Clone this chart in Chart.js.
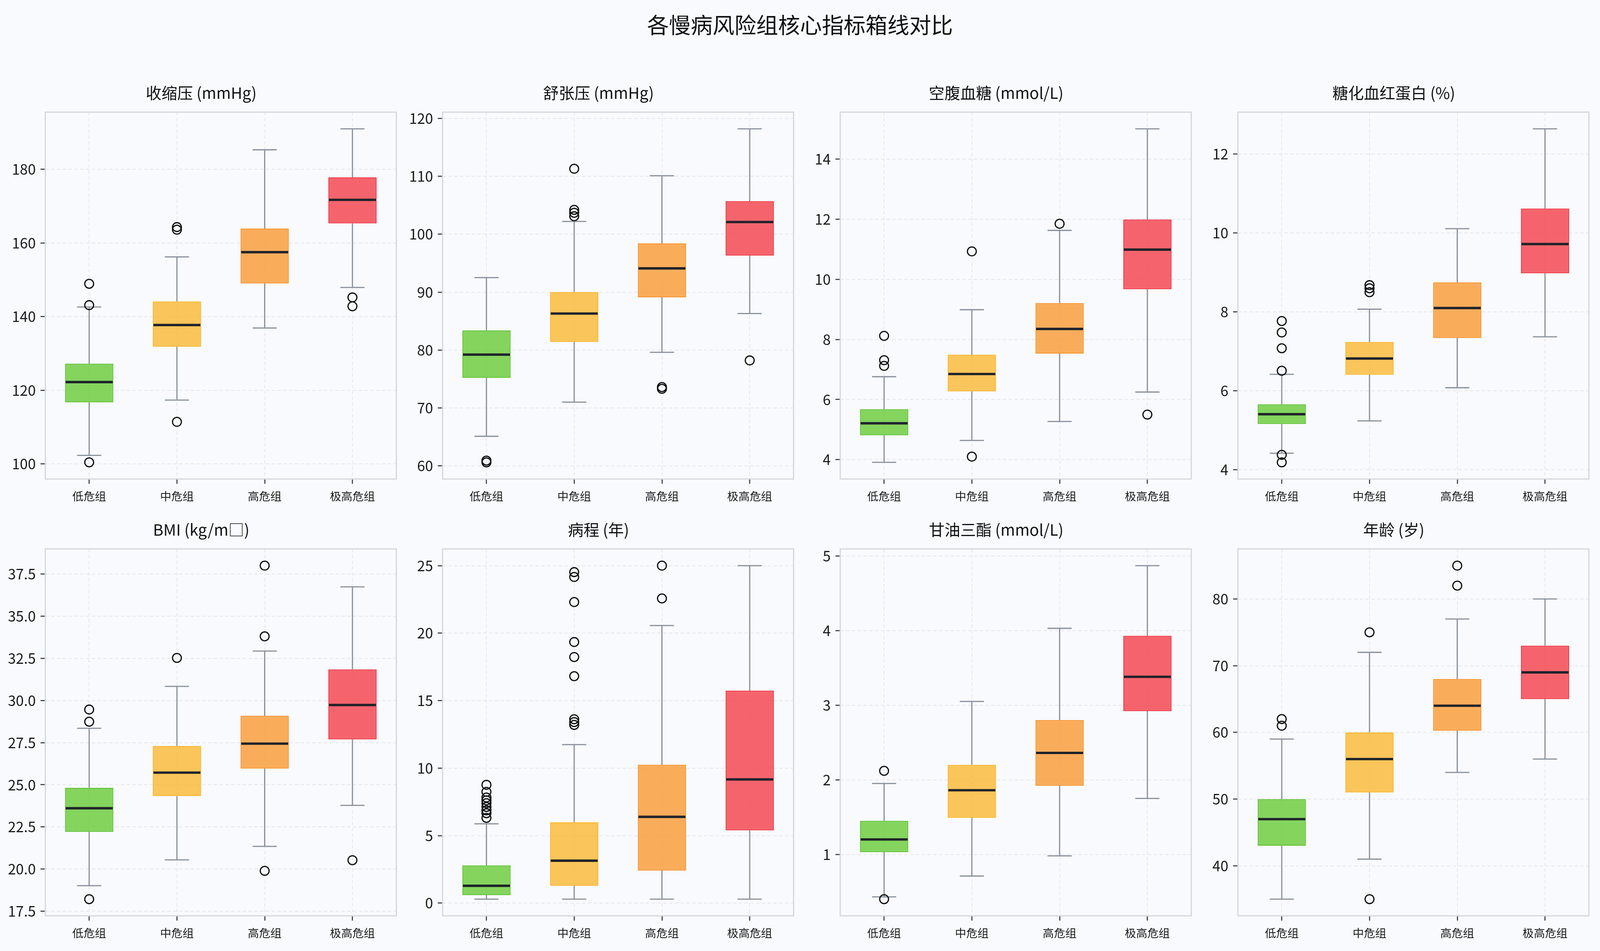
<!DOCTYPE html>
<html lang="zh-CN">
<head>
<meta charset="UTF-8">
<title>各慢病风险组核心指标箱线对比</title>
<script src="https://cdn.jsdelivr.net/npm/chart.js@4.4.1/dist/chart.umd.min.js"></script>
<style>
  html, body {
    margin: 0;
    overflow: hidden;
    background: #f8fafd;
  }
  body {
    position: relative;
    font-family: "Noto Sans CJK SC", "Noto Sans", sans-serif;
  }
  #title {
    position: absolute;
    left: 0;
    text-align: center;
    color: #111;
  }
  .cell {
    position: absolute;
  }
</style>
</head>
<body>
<div id="title">各慢病风险组核心指标箱线对比</div>
<script>
// ---- data ----
const groups = ['低危组', '中危组', '高危组', '极高危组'];
const panelTitles = ['收缩压 (mmHg)', '舒张压 (mmHg)', '空腹血糖 (mmol/L)', '糖化血红蛋白 (%)',
                     'BMI (kg/m□)', '病程 (年)', '甘油三酯 (mmol/L)', '年龄 (岁)'];

// one row per panel, one value per group
const whiskerLow = [
  [102.3, 117.3, 136.9, 147.9],
  [65.1, 71.0, 79.6, 86.3],
  [3.91, 4.64, 5.27, 6.25],
  [4.42, 5.24, 6.08, 7.37],
  [19.02, 20.55, 21.35, 23.78],
  [0.29, 0.29, 0.29, 0.29],
  [0.43, 0.71, 0.98, 1.75],
  [35, 41, 54, 56]
];
const q1 = [
  [116.7, 131.8, 149.0, 165.3],
  [75.2, 81.4, 89.1, 96.3],
  [4.81, 6.27, 7.53, 9.67],
  [5.16, 6.41, 7.34, 8.98],
  [22.21, 24.33, 25.96, 27.69],
  [0.59, 1.28, 2.41, 5.39],
  [1.03, 1.49, 1.92, 2.92],
  [43, 51, 60.25, 65]
];
const median = [
  [122.2, 137.7, 157.5, 171.7],
  [79.2, 86.3, 94.1, 102.1],
  [5.21, 6.85, 8.35, 10.99],
  [5.41, 6.82, 8.10, 9.72],
  [23.61, 25.72, 27.44, 29.73],
  [1.28, 3.14, 6.39, 9.16],
  [1.20, 1.86, 2.36, 3.38],
  [47, 56, 64, 69]
];
const q3 = [
  [127.2, 144.1, 163.9, 177.8],
  [83.4, 90.0, 98.4, 105.7],
  [5.68, 7.49, 9.21, 11.99],
  [5.66, 7.24, 8.75, 10.62],
  [24.82, 27.30, 29.09, 31.84],
  [2.79, 5.99, 10.25, 15.74],
  [1.45, 2.20, 2.80, 3.93],
  [50, 60, 68, 73]
];
const whiskerHigh = [
  [142.6, 156.2, 185.3, 191.0],
  [92.5, 102.2, 110.1, 118.2],
  [6.76, 8.99, 11.63, 15.01],
  [6.42, 8.07, 10.11, 12.64],
  [28.35, 30.83, 32.93, 36.73],
  [5.87, 11.74, 20.56, 25.0],
  [1.95, 3.05, 4.03, 4.87],
  [59, 72, 77, 80]
];
const outliers = [
  [[148.9, 143.1, 100.4], [164.3, 163.6, 111.4], [], [145.2, 142.8]],
  [[60.9, 60.6], [111.3, 104.2, 103.7, 103.1], [73.6, 73.3], [78.2]],
  [[8.12, 7.31, 7.12], [10.93, 4.10], [11.85], [5.50]],
  [[7.77, 7.48, 7.08, 6.51, 4.38, 4.19], [8.68, 8.60, 8.50], [], []],
  [[29.46, 28.74, 18.22], [32.52], [37.99, 33.80, 19.90], [20.53]],
  [[8.76, 8.24, 7.82, 7.61, 7.40, 7.12, 6.87, 6.66, 6.31],
   [24.52, 24.16, 22.30, 19.34, 18.23, 16.81, 13.62, 13.41, 13.20], [25.0, 22.57], []],
  [[2.12, 0.40], [], [], []],
  [[62, 61], [75, 35], [85, 82], []]
];
const yTicks = [
  [100, 120, 140, 160, 180],
  [60, 70, 80, 90, 100, 110, 120],
  [4, 6, 8, 10, 12, 14],
  [4, 6, 8, 10, 12],
  [17.5, 20, 22.5, 25, 27.5, 30, 32.5, 35, 37.5],
  [0, 5, 10, 15, 20, 25],
  [1, 2, 3, 4, 5],
  [40, 50, 60, 70, 80]
];

// ---- styling: sizes in reference pixels, scaled to the real viewport ----
const kx = window.innerWidth / 5361;
const ky = window.innerHeight / 2434;
const kf = Math.sqrt(kx * ky);
const sx = v => v * kx, sy = v => v * ky, sf = v => v * kf;

const boxFill = ['rgba(103,202,54,0.8)', 'rgba(250,184,49,0.8)', 'rgba(249,154,50,0.8)', 'rgba(244,62,72,0.8)'];
const boxEdge = ['#66c43a', '#fab72f', '#f89530', '#ef3b47'];
const cellLeft = [12, 1343, 2675, 4008];
const cellTop = [190, 1308];

document.body.style.width = window.innerWidth + 'px';
document.body.style.height = window.innerHeight + 'px';
const title = document.getElementById('title');
title.style.width = window.innerWidth + 'px';
title.style.fontSize = sf(64) + 'px';
title.style.lineHeight = sf(78) + 'px';
title.style.top = (sy(61) - sf(39)) + 'px';

Chart.defaults.font.family = '"Noto Sans CJK SC", "Noto Sans", sans-serif';
Chart.defaults.color = '#1a1a1a';
Chart.defaults.animation = false;

// whiskers, caps, medians and frame, positioned through the chart's scales
const boxParts = {
  id: 'boxParts',
  beforeDatasetsDraw(chart, args, opts) {
    const p = opts.panel;
    const ctx = chart.ctx, y = chart.scales.y, area = chart.chartArea;
    const bars = chart.getDatasetMeta(0).data;
    ctx.save();
    ctx.strokeStyle = '#d3d7de';
    ctx.lineWidth = sf(3.5);
    ctx.strokeRect(area.left, area.top, area.right - area.left, area.bottom - area.top);
    ctx.strokeStyle = '#8a929e';
    ctx.lineWidth = sf(3.5);
    bars.forEach((bar, i) => {
      const cx = bar.x, half = bar.width / 4;
      const yHi = y.getPixelForValue(whiskerHigh[p][i]);
      const yLo = y.getPixelForValue(whiskerLow[p][i]);
      ctx.beginPath();
      ctx.moveTo(cx, y.getPixelForValue(q3[p][i]));
      ctx.lineTo(cx, yHi);
      ctx.moveTo(cx - half, yHi);
      ctx.lineTo(cx + half, yHi);
      ctx.moveTo(cx, y.getPixelForValue(q1[p][i]));
      ctx.lineTo(cx, yLo);
      ctx.moveTo(cx - half, yLo);
      ctx.lineTo(cx + half, yLo);
      ctx.stroke();
    });
    ctx.restore();
  },
  afterDatasetsDraw(chart, args, opts) {
    const p = opts.panel;
    const ctx = chart.ctx, y = chart.scales.y;
    const bars = chart.getDatasetMeta(0).data;
    ctx.save();
    ctx.strokeStyle = '#1f232b';
    ctx.lineWidth = sf(7);
    bars.forEach((bar, i) => {
      const ym = y.getPixelForValue(median[p][i]);
      ctx.beginPath();
      ctx.moveTo(bar.x - bar.width / 2 + sx(2), ym);
      ctx.lineTo(bar.x + bar.width / 2 - sx(2), ym);
      ctx.stroke();
    });
    ctx.restore();
  }
};

function makeChart(p) {
  const div = document.createElement('div');
  div.className = 'cell';
  div.style.left = sx(cellLeft[p % 4]) + 'px';
  div.style.top = sy(cellTop[Math.floor(p / 4)]) + 'px';
  div.style.width = sx(1335) + 'px';
  div.style.height = sy(1106) + 'px';
  const canvas = document.createElement('canvas');
  div.appendChild(canvas);
  document.body.appendChild(div);

  const points = [];
  outliers[p].forEach((vals, g) => vals.forEach(v => points.push({ x: groups[g], y: v })));
  const all = whiskerLow[p].concat(whiskerHigh[p], outliers[p].flat());
  const lo = Math.min(...all), hi = Math.max(...all), pad = (hi - lo) * 0.05;
  const decimals = yTicks[p].some(v => v % 1 !== 0) ? 1 : 0;

  // title box: centre 48px above the plot top, plot top 97px below the cell top
  const titleLine = sf(46) * 1.2;
  const titlePadTop = sy(48) - titleLine / 2;
  const titlePadBottom = sy(49) - titleLine / 2;
  const xLabelPad = sy(44) - sf(14) - sf(33) * 0.6;

  const gridStyle = { color: '#e6e8eb', lineWidth: sf(2.5), tickLength: sf(14), tickColor: '#333', tickWidth: sf(3) };

  new Chart(canvas, {
    type: 'bar',
    data: {
      labels: groups,
      datasets: [
        {
          data: groups.map((g, i) => [q1[p][i], q3[p][i]]),
          backgroundColor: boxFill,
          borderColor: boxEdge,
          borderWidth: sf(3),
          borderSkipped: false,
          barPercentage: 0.55,
          categoryPercentage: 1,
          order: 2
        },
        {
          type: 'scatter',
          data: points,
          pointRadius: sf(13),
          pointBorderWidth: sf(3.5),
          borderColor: '#111',
          backgroundColor: 'rgba(0,0,0,0)',
          order: 1
        }
      ]
    },
    options: {
      responsive: true,
      maintainAspectRatio: false,
      layout: { padding: { top: 0, right: sx(10), bottom: 0, left: 0 } },
      plugins: {
        legend: { display: false },
        tooltip: { enabled: false },
        title: {
          display: true,
          text: panelTitles[p],
          color: '#111',
          font: { size: sf(46), weight: 'normal' },
          padding: { top: titlePadTop, bottom: titlePadBottom }
        },
        boxParts: { panel: p }
      },
      scales: {
        x: {
          offset: true,
          grid: Object.assign({ offset: false }, gridStyle),
          border: { display: false, dash: [sf(10), sf(7)] },
          ticks: { font: { size: sf(33) }, padding: xLabelPad, maxRotation: 0 },
          afterFit: s => { s.height = sy(70); }
        },
        y: {
          min: lo - pad,
          max: hi + pad,
          grid: gridStyle,
          border: { display: false, dash: [sf(10), sf(7)] },
          ticks: { font: { size: sf(42) }, padding: sx(16), callback: v => v.toFixed(decimals) },
          afterBuildTicks: s => { s.ticks = yTicks[p].map(v => ({ value: v })); },
          afterFit: s => { s.width = sx(140); }
        }
      }
    },
    plugins: [boxParts]
  });
}

for (let p = 0; p < 8; p++) makeChart(p);
</script>
</body>
</html>
